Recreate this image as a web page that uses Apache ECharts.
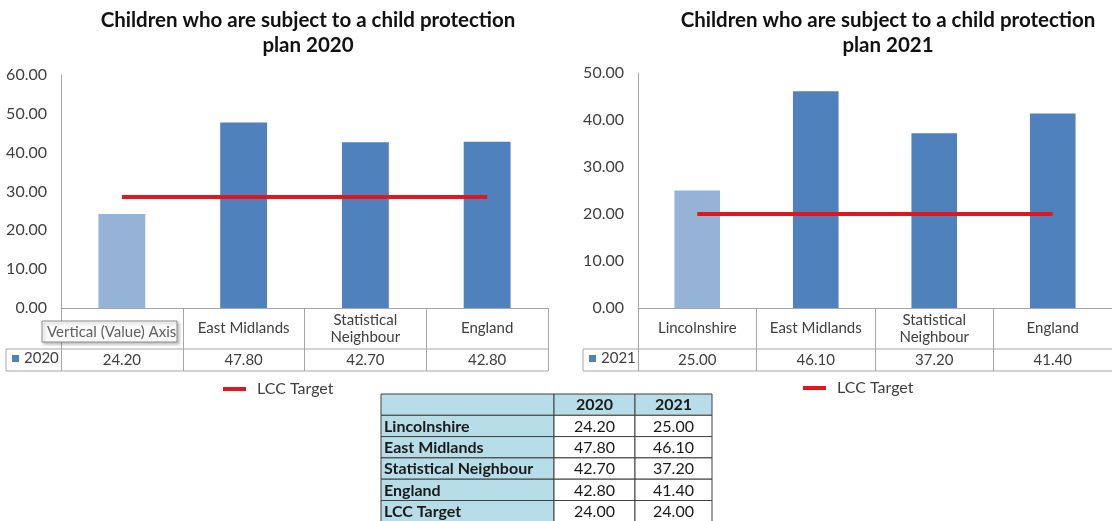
<!DOCTYPE html>
<html>
<head>
<meta charset="utf-8">
<title>Children subject to a child protection plan</title>
<script src="https://cdn.jsdelivr.net/npm/echarts@6/dist/echarts.min.js"></script>
<style>
html, body {margin: 0; padding: 0; background: #fff;}
#main {width: 1112px; height: 521px;}
</style>
</head>
<body>
<div id="main"></div>
<script>
/* Chart data */
var categories  = ['Lincolnshire', 'East Midlands', 'Statistical\nNeighbour', 'England'];
var values2020  = [24.2, 47.8, 42.7, 42.8];
var values2021  = [25.0, 46.1, 37.2, 41.4];
var target2020  = [28.6, 28.6, 28.6, 28.6];
var target2021  = [20, 20, 20, 20];
var yMax2020    = 60;
var yMax2021    = 50;
var yStep       = 10;

/* Summary table */
var tableHead   = ['', '2020', '2021'];
var tableRows   = ['Lincolnshire', 'East Midlands', 'Statistical Neighbour', 'England', 'LCC Target'];
var table2020   = [24.2, 47.8, 42.7, 42.8, 24.0];
var table2021   = [25.0, 46.1, 37.2, 41.4, 24.0];

var FONT       = 'Lato, "Open Sans", sans-serif';
var DARK_BLUE  = '#4f81bd';
var LIGHT_BLUE = '#95b3d7';
var RED        = '#e3161f';
var GRID_LINE  = '#a6a6a6';
var TEXT       = '#404040';

var grids = [
    {left: 61,  top: 75, width: 487, height: 233},
    {left: 638, top: 73, width: 482, height: 235}
];
var ROW_LABEL = 41;   // height of the category label row under the axis
var ROW_VALUE = 22;   // height of the value row
var KEY_LEFT  = [6, 583];

function fmt(v)
{
    return v.toFixed(2);
}

function barData(values)
{
    return values.map(function(v, i)
    {
        if(i == 0) return {value: v, itemStyle: {color: LIGHT_BLUE}};
        return v;
    });
}

function categoryAxis(gridIndex)
{
    return {
        type: 'category',
        gridIndex: gridIndex,
        position: 'bottom',
        data: categories,
        axisLine: {lineStyle: {color: GRID_LINE, width: 1}},
        axisTick: {show: true, alignWithLabel: false, length: ROW_LABEL + ROW_VALUE, lineStyle: {color: GRID_LINE}},
        axisLabel: {interval: 0, margin: ROW_LABEL / 2, verticalAlign: 'middle', lineHeight: 17, fontSize: 15, fontFamily: FONT, color: TEXT}
    };
}

function valueRowAxis(gridIndex, values)
{
    return {
        type: 'category',
        gridIndex: gridIndex,
        position: 'bottom',
        offset: 0,
        data: values.map(fmt),
        axisLine: {show: false},
        axisTick: {show: false},
        axisLabel: {interval: 0, margin: ROW_LABEL + ROW_VALUE / 2, verticalAlign: 'middle', fontSize: 15, fontFamily: FONT, color: TEXT}
    };
}

function valueAxis(gridIndex, max)
{
    return {
        type: 'value',
        gridIndex: gridIndex,
        min: 0,
        max: max,
        interval: yStep,
        axisLine: {show: true, lineStyle: {color: GRID_LINE}},
        axisTick: {show: false},
        splitLine: {show: false},
        axisLabel: {margin: 14, fontSize: 16, fontFamily: FONT, color: TEXT, formatter: fmt}
    };
}

function chartTitle(year, center)
{
    return {
        text: 'Children who are subject to a child protection\nplan ' + year,
        left: center,
        top: 3,
        textAlign: 'center',
        textStyle: {fontSize: 20.5, fontWeight: 'bold', fontFamily: FONT, color: '#111', lineHeight: 25}
    };
}

/* Borders of the data table under each chart (the column lines come from the axis ticks). */
function tableBorders(index)
{
    var g      = grids[index];
    var base   = g.top + g.height;
    var midY   = base + ROW_LABEL;
    var botY   = midY + ROW_VALUE;
    var right  = g.left + g.width;
    var style  = {stroke: GRID_LINE, lineWidth: 1};
    return [
        {type: 'line', shape: {x1: KEY_LEFT[index], y1: midY, x2: right, y2: midY}, style: style},
        {type: 'line', shape: {x1: KEY_LEFT[index], y1: botY, x2: right, y2: botY}, style: style},
        {type: 'line', shape: {x1: KEY_LEFT[index], y1: midY, x2: KEY_LEFT[index], y2: botY}, style: style}
    ];
}

/* Summary table at the bottom. */
function summaryTable()
{
    var colX   = [381, 554, 635, 712];
    var top    = 394;
    var rowH   = 21.3;
    var fill   = '#b7dee8';
    var border = '#404040';
    var items  = [];
    var rows   = [tableHead].concat(tableRows.map(function(name, i)
    {
        return [name, fmt(table2020[i]), fmt(table2021[i])];
    }));

    rows.forEach(function(row, r)
    {
        var y = top + r * rowH;
        row.forEach(function(cell, c)
        {
            var isLabel = (c == 0 || r == 0);
            items.push({
                type: 'rect',
                shape: {x: colX[c], y: y, width: colX[c + 1] - colX[c], height: rowH},
                style: {fill: isLabel ? fill : '#fff', stroke: border, lineWidth: 1}
            });
            items.push({
                type: 'text',
                x: c == 0 ? colX[0] + 3 : (colX[c] + colX[c + 1]) / 2,
                y: y + rowH / 2 + 0.5,
                style: {
                    text: cell,
                    textAlign: c == 0 ? 'left' : 'center',
                    textVerticalAlign: 'middle',
                    font: (isLabel ? 'bold ' : '') + '16px ' + FONT,
                    fill: '#1a1a1a'
                }
            });
        });
    });
    return items;
}

/* The screen capture includes an Excel hover label over the first category. */
function hoverLabel()
{
    return {
        type: 'group',
        zlevel: 1,
        z: 100,
        children: [
            {type: 'rect', z: 100, zlevel: 1, shape: {x: 42, y: 321, width: 135, height: 21}, style: {fill: '#fbfbfb', stroke: '#8c8c8c', lineWidth: 1, shadowBlur: 3, shadowOffsetX: 2, shadowOffsetY: 2, shadowColor: 'rgba(0,0,0,0.25)'}},
            {type: 'text', z: 101, zlevel: 1, x: 47, y: 332, style: {text: 'Vertical (Value) Axis', textVerticalAlign: 'middle', font: '15px ' + FONT, fill: '#606060'}}
        ]
    };
}

var chart = echarts.init(document.getElementById('main'));

var option =
{
    animation: false,
    backgroundColor: '#fff',
    title: [chartTitle(2020, 303), chartTitle(2021, 883)],
    grid: grids,
    xAxis: [
        categoryAxis(0), valueRowAxis(0, values2020),
        categoryAxis(1), valueRowAxis(1, values2021)
    ],
    yAxis: [valueAxis(0, yMax2020), valueAxis(1, yMax2021)],
    legend: [
        {data: ['2020'], left: 12, top: 351, padding: 0, icon: 'rect', itemWidth: 7, itemHeight: 7, textStyle: {fontSize: 15, fontFamily: FONT, color: TEXT}},
        {data: ['LCC Target'], left: 223, top: 381, padding: 0, icon: 'rect', itemWidth: 23, itemHeight: 4, textStyle: {fontSize: 16, fontFamily: FONT, color: TEXT, padding: [0, 0, 0, 6]}},
        {data: ['2021'], left: 589, top: 351, padding: 0, icon: 'rect', itemWidth: 7, itemHeight: 7, textStyle: {fontSize: 15, fontFamily: FONT, color: TEXT}},
        {data: ['LCC Target'], left: 803, top: 380, padding: 0, icon: 'rect', itemWidth: 23, itemHeight: 4, textStyle: {fontSize: 16, fontFamily: FONT, color: TEXT, padding: [0, 0, 0, 6]}}
    ],
    series: [
        {name: '2020', type: 'bar', xAxisIndex: 0, yAxisIndex: 0, barWidth: '38.5%', itemStyle: {color: DARK_BLUE}, data: barData(values2020)},
        {name: 'LCC Target', type: 'line', xAxisIndex: 0, yAxisIndex: 0, symbol: 'none', z: 5, itemStyle: {color: RED}, lineStyle: {color: RED, width: 4}, data: target2020},
        {name: '2021', type: 'bar', xAxisIndex: 2, yAxisIndex: 1, barWidth: '38.5%', itemStyle: {color: DARK_BLUE}, data: barData(values2021)},
        {name: 'LCC Target', type: 'line', xAxisIndex: 2, yAxisIndex: 1, symbol: 'none', z: 5, itemStyle: {color: RED}, lineStyle: {color: RED, width: 4}, data: target2021}
    ],
    graphic: tableBorders(0).concat(tableBorders(1), summaryTable(), [hoverLabel()])
};

chart.setOption(option);
</script>
</body>
</html>
